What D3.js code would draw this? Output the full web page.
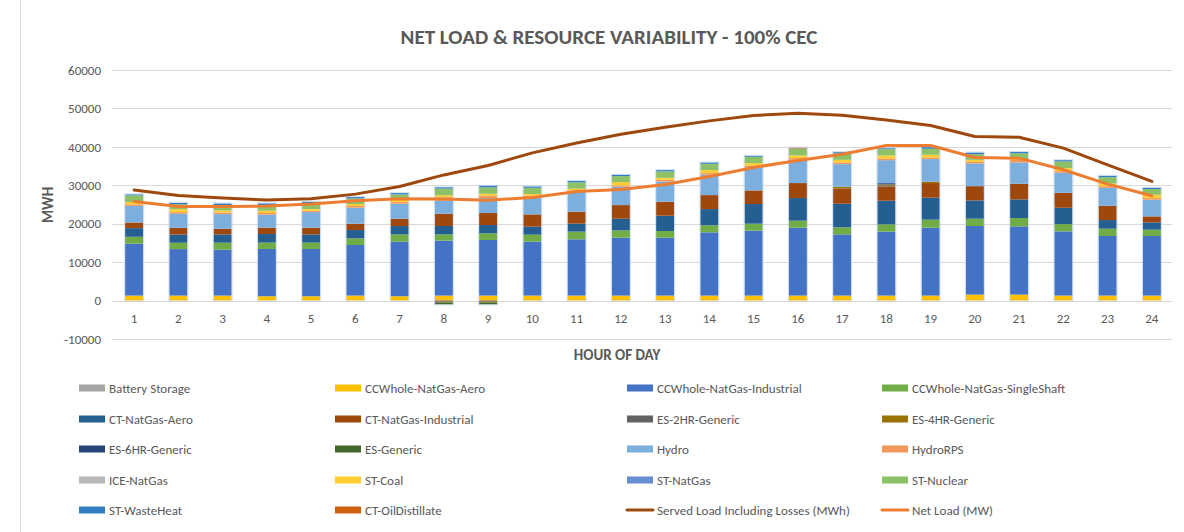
<!DOCTYPE html>
<html><head><meta charset="utf-8">
<script src="https://cdn.jsdelivr.net/npm/d3@7"></script>
<style>
html,body{margin:0;padding:0;background:#fff;}
svg{display:block;font-family:Carlito, Calibri, Lato, sans-serif;}
</style></head>
<body>
<svg id="chart" width="1184" height="532"></svg>
<script>
const hours = d3.range(1, 25);
const yTicks = [-10000, 0, 10000, 20000, 30000, 40000, 50000, 60000];

const batteryStorage = [0,0,0,0,0,0,0,0,0,0,0,0,0,0,0,0,0,0,0,0,0,0,0,0];
const ccAero = [1300,1300,1300,1130,1130,1300,1130,1300,1300,1300,1300,1300,1300,1300,1300,1300,1300,1300,1300,1560,1560,1300,1300,1300];
const ccIndustrial = [13500,12100,11950,12300,12300,13160,14200,14290,14460,14030,14640,15070,15070,16450,16890,17670,15930,16630,17670,17840,17750,16710,15500,15500];
const ccSingleShaft = [1800,1650,1820,1650,1650,1730,1900,1650,1730,1820,2000,1900,1730,1820,1820,1820,1820,1900,2080,1900,2165,1900,1900,1650];
const ctAero = [2250,2150,2150,2250,2150,2165,2165,2165,2165,2080,2080,3030,3980,4240,5110,5890,6150,6150,5720,4760,4850,4240,2250,1900];
const ctIndustrial = [1470,1730,1470,1650,1730,1650,1900,3200,3120,3200,3120,3550,3640,3640,3550,3900,3980,3720,3810,3720,4070,3900,3720,1560];
const es2hr = [0,0,0,0,0,0,0,-300,-300,0,0,0,0,0,0,0,0,300,0,0,0,0,0,0];
const es4hr = [0,0,0,0,0,0,0,-200,-200,0,0,0,0,0,0,0,430,250,350,0,0,0,0,0];
const es6hr = [0,0,0,0,0,0,0,0,0,0,0,0,0,0,0,0,0,300,0,0,0,0,0,0];
const esGeneric = [0,0,0,0,0,0,0,-500,-500,0,0,0,0,0,0,0,0,0,0,0,0,0,0,0];
const hydro = [4330,3640,3810,3380,4070,4160,3900,3380,3900,4420,5110,4760,5280,5280,5980,6060,5890,5980,5890,5890,5540,5200,4680,4330];
const hydroRPS = [400,430,430,430,350,430,430,600,600,430,430,350,430,430,430,430,430,430,430,430,700,430,430,430];
const iceNatGas = [0,0,0,0,0,0,0,300,0,0,0,0,0,0,0,0,0,0,0,0,0,0,0,0];
const stCoal = [600,780,520,600,430,520,600,520,520,430,430,870,520,780,690,690,690,780,690,520,200,780,690,870];
const stNatGas = [0,0,0,0,0,0,0,0,0,0,0,0,0,0,0,0,0,0,0,0,0,0,0,0];
const stNuclear = [1730,1300,1390,1470,1470,1470,1390,1730,1650,1650,1650,1560,1650,1650,1650,1730,1650,1650,1560,1470,1470,1730,1650,1470];
const stWasteHeat = [260,350,430,430,430,350,350,350,430,350,350,350,350,350,260,100,350,260,430,430,350,350,350,350];
const ctOilDistillate = [0,0,0,0,0,0,0,0,0,0,0,0,0,0,0,200,0,0,0,0,0,0,0,0];

const servedLoad = [28750,27370,26670,26150,26500,27700,29700,32700,35160,38440,41000,43300,45100,46760,48150,48760,48240,47000,45550,42700,42520,39660,35330,31000];
const netLoad = [25800,24500,24500,24600,25100,26000,26500,26400,26100,26850,28400,28900,30200,32300,34640,36460,38100,40360,40360,37240,37060,34030,30300,27280];

const barSeries = [
  {name:"Battery Storage", values:batteryStorage, color:"#A5A5A5"},
  {name:"CCWhole-NatGas-Aero", values:ccAero, color:"#FFC000"},
  {name:"CCWhole-NatGas-Industrial", values:ccIndustrial, color:"#4472C4"},
  {name:"CCWhole-NatGas-SingleShaft", values:ccSingleShaft, color:"#70AD47"},
  {name:"CT-NatGas-Aero", values:ctAero, color:"#255E91"},
  {name:"CT-NatGas-Industrial", values:ctIndustrial, color:"#9E480E"},
  {name:"ES-2HR-Generic", values:es2hr, color:"#636363"},
  {name:"ES-4HR-Generic", values:es4hr, color:"#997300"},
  {name:"ES-6HR-Generic", values:es6hr, color:"#264478"},
  {name:"ES-Generic", values:esGeneric, color:"#43682B"},
  {name:"Hydro", values:hydro, color:"#7CAFDD"},
  {name:"HydroRPS", values:hydroRPS, color:"#F1975A"},
  {name:"ICE-NatGas", values:iceNatGas, color:"#B7B7B7"},
  {name:"ST-Coal", values:stCoal, color:"#FFCD33"},
  {name:"ST-NatGas", values:stNatGas, color:"#698ED0"},
  {name:"ST-Nuclear", values:stNuclear, color:"#8CC168"},
  {name:"ST-WasteHeat", values:stWasteHeat, color:"#327DC2"},
  {name:"CT-OilDistillate", values:ctOilDistillate, color:"#D26012"}
];
const lineSeries = [
  {name:"Served Load Including Losses (MWh)", values:servedLoad, color:"#9E480E"},
  {name:"Net Load (MW)", values:netLoad, color:"#ED7D31"}
];

const svg = d3.select("#chart");
const textColor = "#595959";

svg.append("line").attr("x1",20.5).attr("x2",20.5).attr("y1",0).attr("y2",532)
  .attr("stroke","#d9d9d9").attr("stroke-width",1);

const x = d3.scaleBand().domain(hours).range([112, 1174]).paddingInner(0.593).paddingOuter(0.2965);
const y = d3.scaleLinear().domain([-10000, 60000]).range([339, 70]);

svg.append("g").selectAll("line").data(yTicks).join("line")
  .attr("x1",112).attr("x2",1172)
  .attr("y1",d=>Math.round(y(d))+0.5).attr("y2",d=>Math.round(y(d))+0.5)
  .attr("stroke","#d9d9d9").attr("stroke-width",1);

const yAxis = d3.axisLeft(y).tickValues(yTicks).tickSize(0).tickPadding(0).tickFormat(d=>String(d));
const gy = svg.append("g").attr("transform","translate(101,0)").call(yAxis);
gy.select(".domain").remove();
gy.selectAll("text").attr("fill",textColor).attr("font-size","13px").attr("font-family","Carlito, Calibri, Lato, sans-serif");

const xAxis = d3.axisBottom(x).tickSize(0).tickPadding(0);
const gx = svg.append("g").attr("transform","translate(0,314)").call(xAxis);
gx.select(".domain").remove();
gx.selectAll("text").attr("fill",textColor).attr("font-size","13px").attr("font-family","Carlito, Calibri, Lato, sans-serif");

const barsG = svg.append("g");
hours.forEach((h, i) => {
  let pos = 0, neg = 0;
  barSeries.forEach(s => {
    const v = s.values[i];
    if (!v) return;
    let y0, y1;
    if (v > 0) { y0 = pos; y1 = pos + v; pos = y1; }
    else { y0 = neg; y1 = neg + v; neg = y1; }
    const top = y(Math.max(y0, y1)), bot = y(Math.min(y0, y1));
    barsG.append("rect")
      .attr("x", x(h)).attr("width", x.bandwidth())
      .attr("y", top).attr("height", Math.max(0, bot - top))
      .attr("fill", s.color);
  });
});
hours.forEach((h,i)=>{
  let pos=0, neg=0;
  barSeries.forEach(s=>{const v=s.values[i]; if(v>0)pos+=v; else neg+=v;});
  barsG.append("rect").attr("x",x(h)-0.5).attr("width",x.bandwidth()+1)
    .attr("y",y(pos)-0.5).attr("height",y(neg)-y(pos)+1)
    .attr("fill","none").attr("stroke","#bcd3ee").attr("stroke-width",1).attr("stroke-opacity",0.7);
});

const line = d3.line().x((d,i)=>x(hours[i]) + x.bandwidth()/2).y(d=>y(d));
lineSeries.forEach(s => {
  svg.append("path").datum(s.values).attr("d", line)
    .attr("fill","none").attr("stroke", s.color).attr("stroke-width",3)
    .attr("stroke-linejoin","round").attr("stroke-linecap","round");
});

svg.append("text").attr("x",609).attr("y",44).attr("text-anchor","middle")
  .attr("font-size","21px").attr("font-weight","bold").attr("fill",textColor)
  .text("NET LOAD & RESOURCE VARIABILITY - 100% CEC");
svg.append("text").attr("x",617).attr("y",360).attr("text-anchor","middle")
  .attr("font-size","15px").attr("font-weight","bold").attr("fill",textColor)
  .text("HOUR OF DAY");
svg.append("text").attr("transform","translate(53,205) rotate(-90)").attr("text-anchor","middle")
  .attr("font-size","15px").attr("font-weight","bold").attr("fill",textColor)
  .text("MWH");

const legendItems = barSeries.map(s=>({name:s.name,color:s.color,type:"bar"}))
  .concat(lineSeries.map(s=>({name:s.name,color:s.color,type:"line"})));
const colX = [79, 335, 627, 882];
const rowY = [388, 419, 449, 480, 510];
const lg = svg.append("g");
legendItems.forEach((it, k) => {
  const cx = colX[k % 4], cy = rowY[Math.floor(k / 4)];
  if (it.type === "bar") {
    lg.append("rect").attr("x",cx).attr("y",cy-3.5).attr("width",26).attr("height",7).attr("fill",it.color);
  } else {
    lg.append("line").attr("x1",cx).attr("x2",cx+26).attr("y1",cy).attr("y2",cy)
      .attr("stroke",it.color).attr("stroke-width",3).attr("stroke-linecap","round");
  }
  lg.append("text").attr("x",cx+30).attr("y",cy+4.5).attr("font-size","13px").attr("fill",textColor).text(it.name);
});
</script>
</body></html>
